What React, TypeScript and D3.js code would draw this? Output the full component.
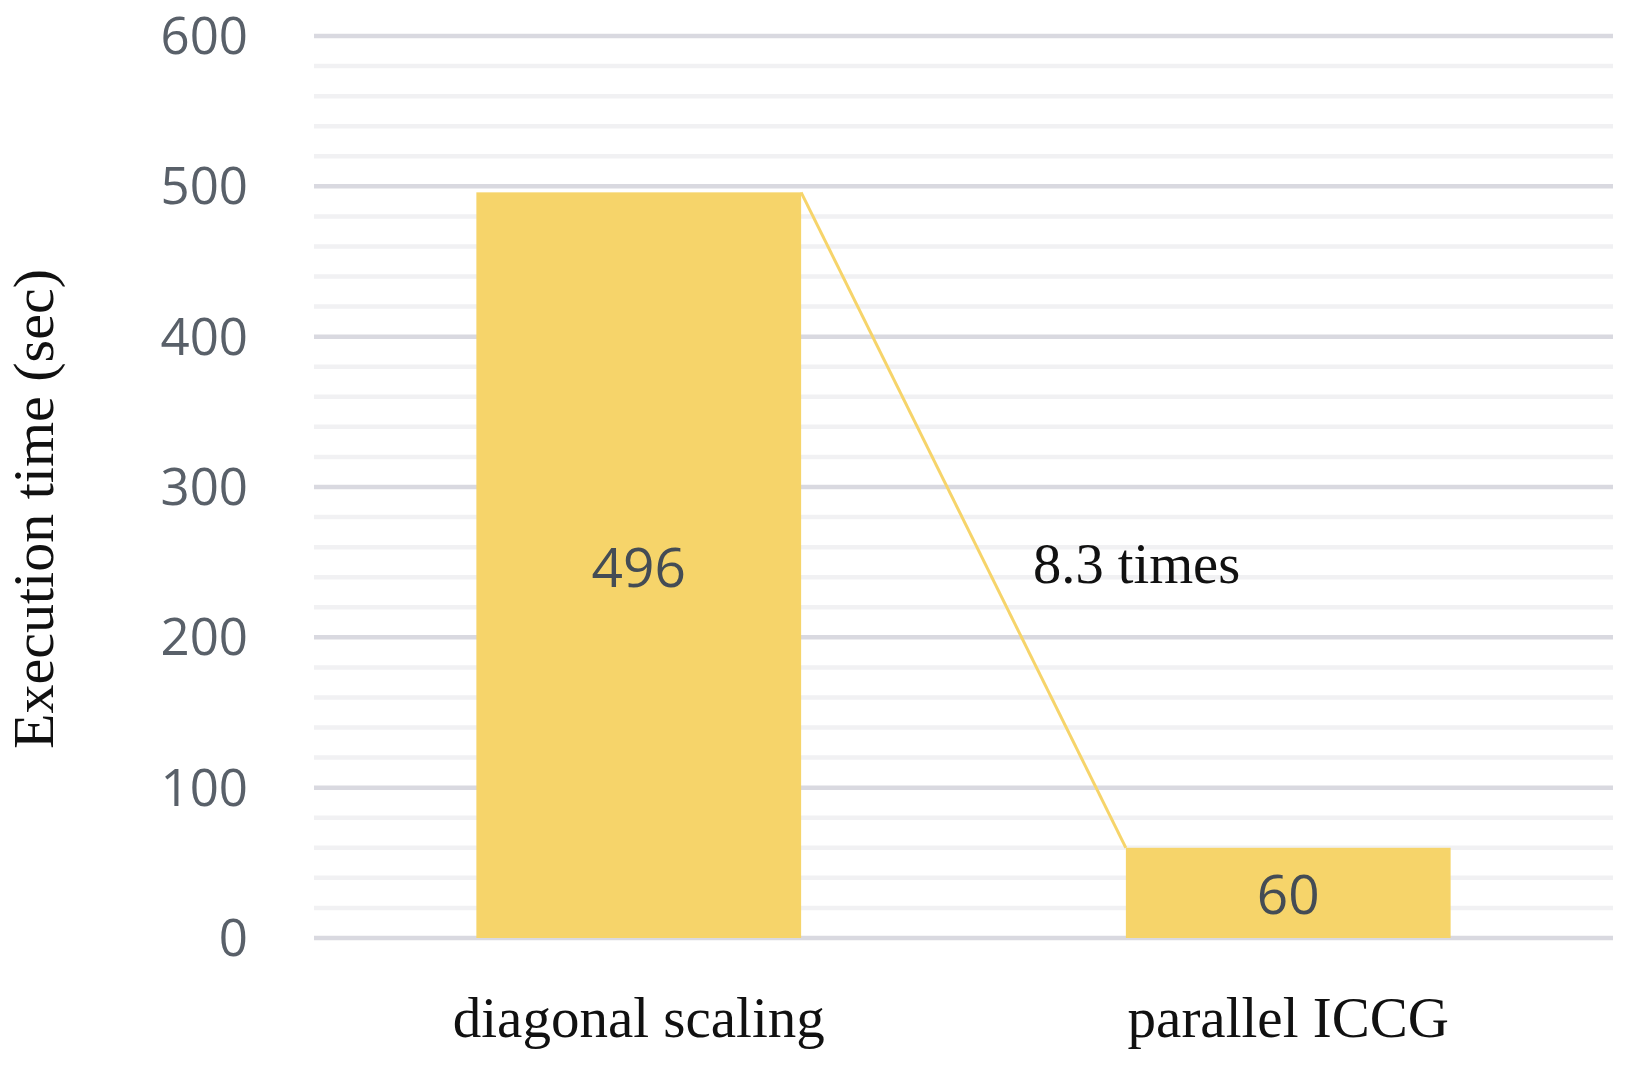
import React from "react";
import * as d3 from "d3";

const WIDTH = 1634;
const HEIGHT = 1065;

const categories = ["diagonal scaling", "parallel ICCG"];
const values = [496, 60];
const yTicks = [0, 100, 200, 300, 400, 500, 600];
const annotation = "8.3 times";
const yTitle = "Execution time (sec)";

const PLOT = { left: 314, right: 1613, top: 36, bottom: 938 };
const BAR_COLOR = "#f6d46a";
const SERIF = "'Liberation Serif', 'Times New Roman', serif";
const SANS = "'Open Sans', 'Noto Sans', sans-serif";

export default function App() {
  const x = d3
    .scaleBand<string>()
    .domain(categories)
    .range([PLOT.left, PLOT.right])
    .paddingInner(0.5)
    .paddingOuter(0.25);

  const y = d3.scaleLinear().domain([0, 600]).range([PLOT.bottom, PLOT.top]);

  const minorTicks = d3.range(0, 601, 20).filter((t) => t % 100 !== 0);

  const bars = categories.map((c, i) => ({
    name: c,
    value: values[i],
    x0: x(c) as number,
    x1: (x(c) as number) + x.bandwidth(),
    top: y(values[i]),
  }));

  return (
    <svg
      width={WIDTH}
      height={HEIGHT}
      style={{ position: "absolute", left: 0, top: 0, background: "#fff" }}
    >
      {/* minor gridlines */}
      {minorTicks.map((t) => (
        <line
          key={"m" + t}
          x1={PLOT.left}
          x2={PLOT.right}
          y1={y(t)}
          y2={y(t)}
          stroke="#f1f1f3"
          strokeWidth={4.5}
        />
      ))}
      {/* major gridlines + labels */}
      {yTicks.map((t) => (
        <g key={t}>
          <line
            x1={PLOT.left}
            x2={PLOT.right}
            y1={y(t)}
            y2={y(t)}
            stroke="#d9d9e0"
            strokeWidth={4.5}
          />
          <text
            x={248}
            y={y(t) - 2}
            textAnchor="end"
            dominantBaseline="central"
            fontFamily={SANS}
            fontSize={51}
            fill="#596069"
          >
            {t}
          </text>
        </g>
      ))}

      {bars.map((b) => (
        <g key={b.name}>
          <rect
            x={b.x0}
            y={b.top}
            width={b.x1 - b.x0}
            height={y(0) - b.top}
            fill={BAR_COLOR}
          />
          <text
            x={(b.x0 + b.x1) / 2}
            y={(b.top + y(0)) / 2}
            textAnchor="middle"
            dominantBaseline="central"
            fontFamily={SANS}
            fontSize={55}
            fill="#444c55"
          >
            {b.value}
          </text>
          <text
            x={(b.x0 + b.x1) / 2}
            y={1037}
            textAnchor="middle"
            fontFamily={SERIF}
            fontSize={57}
            fill="#111"
          >
            {b.name}
          </text>
        </g>
      ))}

      {/* connector line between bar tops */}
      <line
        x1={bars[0].x1}
        y1={bars[0].top}
        x2={bars[1].x0}
        y2={bars[1].top}
        stroke={BAR_COLOR}
        strokeWidth={3}
      />

      <text x={1033} y={583} fontFamily={SERIF} fontSize={56.5} fill="#111">
        {annotation}
      </text>

      <text
        transform={`translate(53, 509) rotate(-90)`}
        textAnchor="middle"
        fontFamily={SERIF}
        fontSize={58}
        fill="#111"
      >
        {yTitle}
      </text>
    </svg>
  );
}
